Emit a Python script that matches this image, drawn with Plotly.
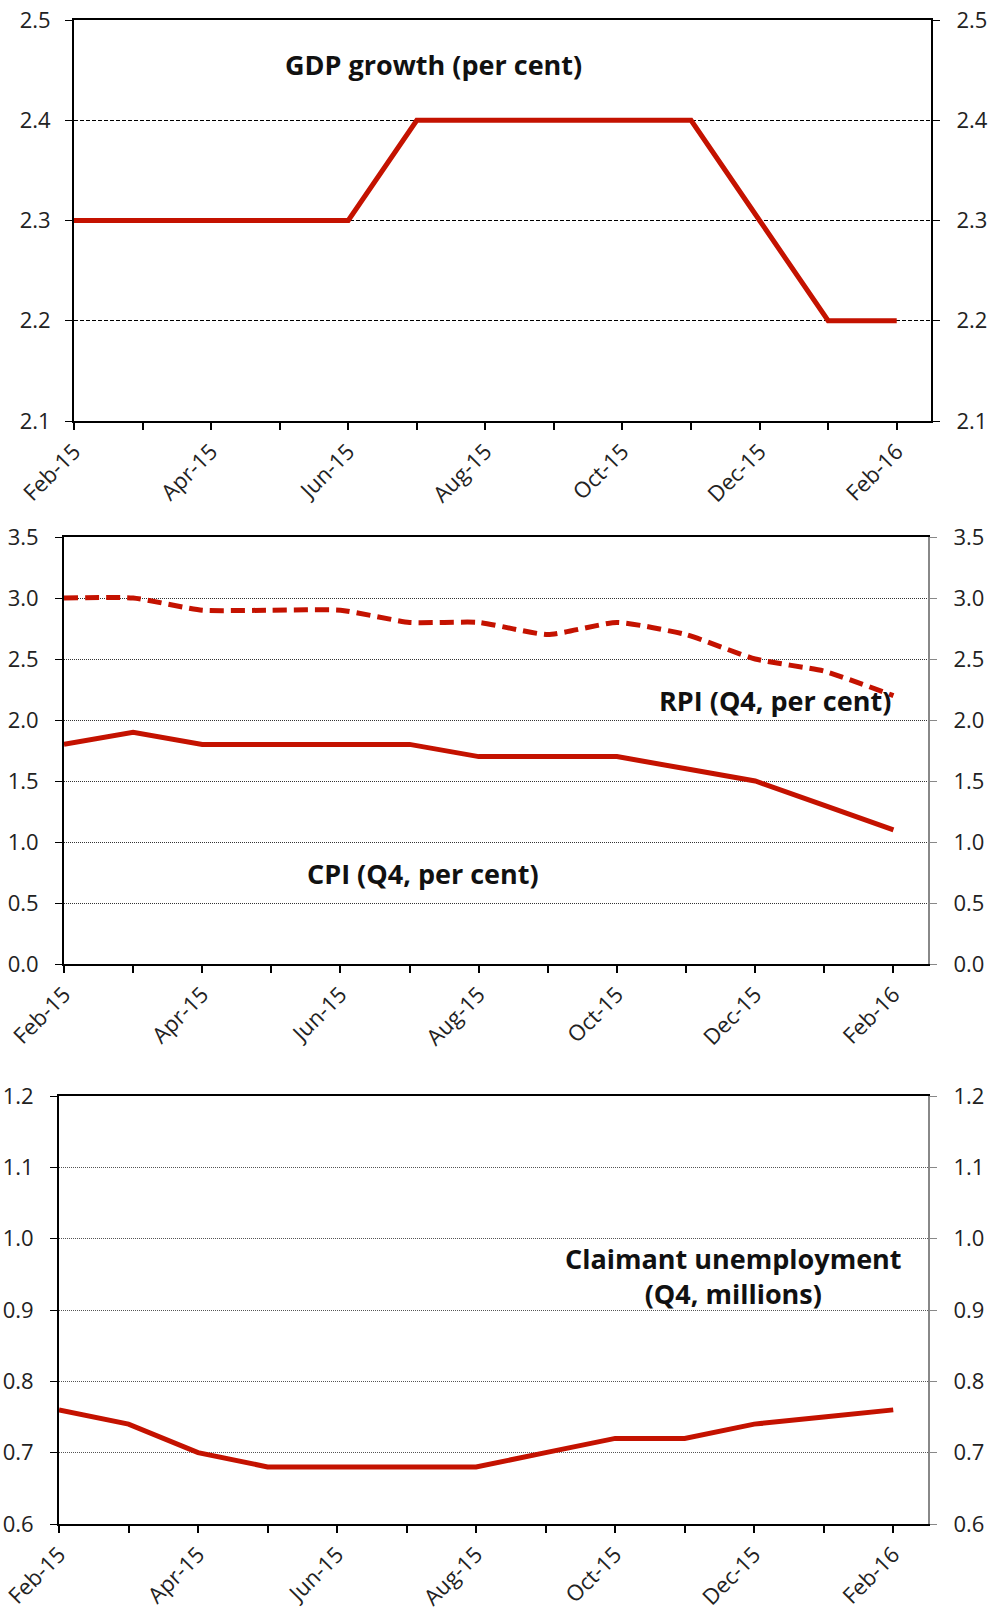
import plotly.graph_objects as go

months = ["Feb-15", "Mar-15", "Apr-15", "May-15", "Jun-15", "Jul-15", "Aug-15",
          "Sep-15", "Oct-15", "Nov-15", "Dec-15", "Jan-16", "Feb-16"]
tick_labels = ["Feb-15", "", "Apr-15", "", "Jun-15", "", "Aug-15", "",
               "Oct-15", "", "Dec-15", "", "Feb-16"]

gdp = [2.3, 2.3, 2.3, 2.3, 2.3, 2.4, 2.4, 2.4, 2.4, 2.4, 2.3, 2.2, 2.2]
rpi = [3.0, 3.0, 2.9, 2.9, 2.9, 2.8, 2.8, 2.7, 2.8, 2.7, 2.5, 2.4, 2.2]
cpi = [1.8, 1.9, 1.8, 1.8, 1.8, 1.8, 1.7, 1.7, 1.7, 1.6, 1.5, 1.3, 1.1]
claimant = [0.76, 0.74, 0.70, 0.68, 0.68, 0.68, 0.68, 0.70, 0.72, 0.72, 0.74, 0.75, 0.76]

x = list(range(len(months)))
RED = "#C41200"
FONT = "Open Sans"
W, H = 990, 1610

def px_x(a, b):
    return [a / W, b / W]

def px_y(top, bottom):
    return [1 - bottom / H, 1 - top / H]

fig = go.Figure()

fig.add_trace(go.Scatter(x=x, y=gdp, mode="lines", line=dict(color=RED, width=5),
                         xaxis="x", yaxis="y", showlegend=False))
fig.add_trace(go.Scatter(x=x, y=gdp, mode="lines", line=dict(color="rgba(0,0,0,0)", width=0),
                         xaxis="x", yaxis="y4", showlegend=False, hoverinfo="skip"))
fig.add_trace(go.Scatter(x=x, y=rpi, mode="lines",
                         line=dict(color=RED, width=5, dash="14px,7px", shape="spline", smoothing=0.5),
                         xaxis="x2", yaxis="y2", showlegend=False))
fig.add_trace(go.Scatter(x=x, y=cpi, mode="lines", line=dict(color=RED, width=5),
                         xaxis="x2", yaxis="y2", showlegend=False))
fig.add_trace(go.Scatter(x=x, y=cpi, mode="lines", line=dict(color="rgba(0,0,0,0)", width=0),
                         xaxis="x2", yaxis="y5", showlegend=False, hoverinfo="skip"))
fig.add_trace(go.Scatter(x=x, y=claimant, mode="lines", line=dict(color=RED, width=5),
                         xaxis="x3", yaxis="y3", showlegend=False))
fig.add_trace(go.Scatter(x=x, y=claimant, mode="lines", line=dict(color="rgba(0,0,0,0)", width=0),
                         xaxis="x3", yaxis="y6", showlegend=False, hoverinfo="skip"))

tickfont = dict(family=FONT, size=22, color="#222")

def xaxis(domain, anchor):
    return dict(domain=domain, anchor=anchor, range=[0, 12.5], tickvals=x, ticktext=tick_labels,
                tickangle=-45, ticks="outside", ticklen=7, tickwidth=1.5, tickcolor="black",
                showline=True, linecolor="black", linewidth=2, mirror=True, automargin=False,
                showgrid=False, zeroline=False, tickfont=tickfont, fixedrange=True)

def yaxis(domain, anchor, rng, dtick, griddash, gridcolor, standoff):
    return dict(domain=domain, anchor=anchor, range=rng, dtick=dtick, tickformat=".1f",
                ticks="outside", ticklen=7, tickwidth=1, tickcolor="black",
                showline=True, linecolor="black", linewidth=2, automargin=False,
                showgrid=True, gridcolor=gridcolor, gridwidth=1, griddash=griddash,
                zeroline=False, tickfont=tickfont, ticklabelstandoff=standoff)

def yright(over, anchor, rng, dtick, color):
    return dict(overlaying=over, anchor=anchor, side="right", range=rng, dtick=dtick,
                tickformat=".1f", ticks="outside", ticklen=7, tickwidth=1, tickcolor=color,
                showline=True, linecolor=color, linewidth=2, showgrid=False, zeroline=False,
                automargin=False, tickfont=tickfont, ticklabelstandoff=12)

d1x, d1y = px_x(74, 931), px_y(20, 421)
d2x, d2y = px_x(64, 928), px_y(537, 964)
d3x, d3y = px_x(59, 928), px_y(1096, 1524)

fig.update_layout(
    width=W, height=H, margin=dict(l=0, r=0, t=0, b=0, autoexpand=False),
    paper_bgcolor="white", plot_bgcolor="white",
    font=dict(family=FONT, color="#111"),
    xaxis=xaxis(d1x, "y"),
    yaxis=yaxis(d1y, "x", [2.1, 2.5], 0.1, "4px,2px", "black", 10),
    yaxis4=yright("y", "x", [2.1, 2.5], 0.1, "black"),
    xaxis2=xaxis(d2x, "y2"),
    yaxis2=yaxis(d2y, "x2", [0, 3.5], 0.5, "1px,1px", "#333", 12),
    yaxis5=yright("y2", "x2", [0, 3.5], 0.5, "#888"),
    xaxis3=xaxis(d3x, "y3"),
    yaxis3=yaxis(d3y, "x3", [0.6, 1.2], 0.1, "1px,1px", "#555", 12),
    yaxis6=yright("y3", "x3", [0.6, 1.2], 0.1, "#888"),
)

titlefont = dict(family=FONT, size=27, color="#111", weight="bold")
fig.add_annotation(x=5.25, y=2.456, xref="x", yref="y", text="<b>GDP growth (per cent)</b>",
                   showarrow=False, font=titlefont, xanchor="center", yanchor="middle")
fig.add_annotation(x=12.0, y=2.16, xref="x2", yref="y2", text="<b>RPI (Q4, per cent)</b>",
                   showarrow=False, font=titlefont, xanchor="right", yanchor="middle")
fig.add_annotation(x=5.19, y=0.74, xref="x2", yref="y2", text="<b>CPI (Q4, per cent)</b>",
                   showarrow=False, font=titlefont, xanchor="center", yanchor="middle")
fig.add_annotation(x=9.70, y=0.947, xref="x3", yref="y3",
                   text="<b>Claimant unemployment</b><br><b>(Q4, millions)</b>",
                   showarrow=False, font=titlefont, xanchor="center", yanchor="middle", align="center")

fig.write_html("out.html", config={"displayModeBar": False},
               post_script="document.body.style.margin='0';document.body.style.overflow='hidden';")
